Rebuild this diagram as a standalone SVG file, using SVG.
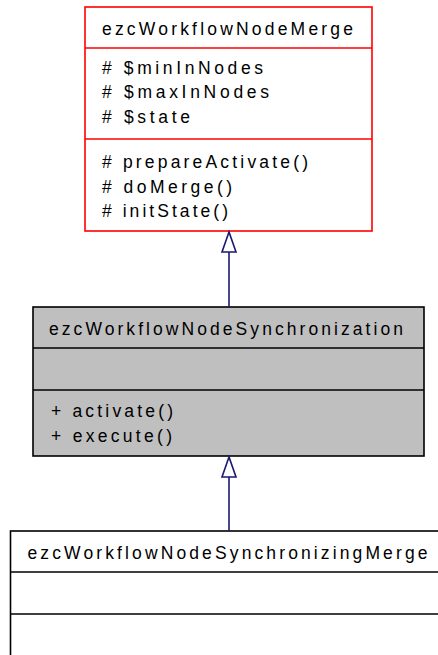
<svg xmlns="http://www.w3.org/2000/svg" width="438" height="655" viewBox="0 0 438 655">
<style>
text{font-family:"Liberation Sans",Arial,Helvetica,sans-serif;font-size:17.5px;fill:#000}
.red{fill:#fff;stroke:#ff0000;stroke-width:1.6}
.redl{stroke:#ff0000;stroke-width:1.6}
.gray{fill:#bfbfbf;stroke:#000;stroke-width:1.6}
.wht{fill:#fff;stroke:#000;stroke-width:1.6}
.bl{stroke:#000;stroke-width:1.6}
.edge{stroke:#191970;stroke-width:1.6;fill:none}
.head{fill:#fff;stroke:#191970;stroke-width:1.6}
</style>
<rect width="438" height="655" fill="#fff"/>
<g id="node-merge">
<rect class="red" x="85" y="7" width="287" height="224"/>
<line class="redl" x1="85" y1="48" x2="372" y2="48"/>
<line class="redl" x1="85" y1="139" x2="372" y2="139"/>
<text x="102" y="34.5" textLength="251" lengthAdjust="spacing">ezcWorkflowNodeMerge</text>
<text x="102" y="73.5" textLength="161" lengthAdjust="spacing"># $minInNodes</text>
<text x="102" y="98" textLength="167" lengthAdjust="spacing"># $maxInNodes</text>
<text x="102" y="122.5" textLength="88" lengthAdjust="spacing"># $state</text>
<text x="102" y="168" textLength="206" lengthAdjust="spacing"># prepareActivate()</text>
<text x="102" y="192.5" textLength="130" lengthAdjust="spacing"># doMerge()</text>
<text x="102" y="217" textLength="126" lengthAdjust="spacing"># initState()</text>
</g>
<g id="node-sync">
<rect class="gray" x="33" y="307" width="391" height="149"/>
<line class="bl" x1="33" y1="348" x2="424" y2="348"/>
<line class="bl" x1="33" y1="390" x2="424" y2="390"/>
<text x="49" y="335" textLength="354" lengthAdjust="spacing">ezcWorkflowNodeSynchronization</text>
<text x="51" y="417" textLength="122" lengthAdjust="spacing">+ activate()</text>
<text x="51" y="441.5" textLength="121" lengthAdjust="spacing">+ execute()</text>
</g>
<g id="node-syncmerge">
<rect class="wht" x="10.5" y="531" width="440" height="140"/>
<line class="bl" x1="10.5" y1="572" x2="450" y2="572"/>
<line class="bl" x1="10.5" y1="614" x2="450" y2="614"/>
<text x="27.5" y="558.5" textLength="400" lengthAdjust="spacing">ezcWorkflowNodeSynchronizingMerge</text>
</g>
<g id="connectors">
<line class="edge" x1="229" y1="252" x2="229" y2="307"/>
<polygon class="head" points="229,232 222,252 236,252"/>
<line class="edge" x1="229" y1="477" x2="229" y2="531"/>
<polygon class="head" points="229,457 222,477 236,477"/>
</g>
</svg>
